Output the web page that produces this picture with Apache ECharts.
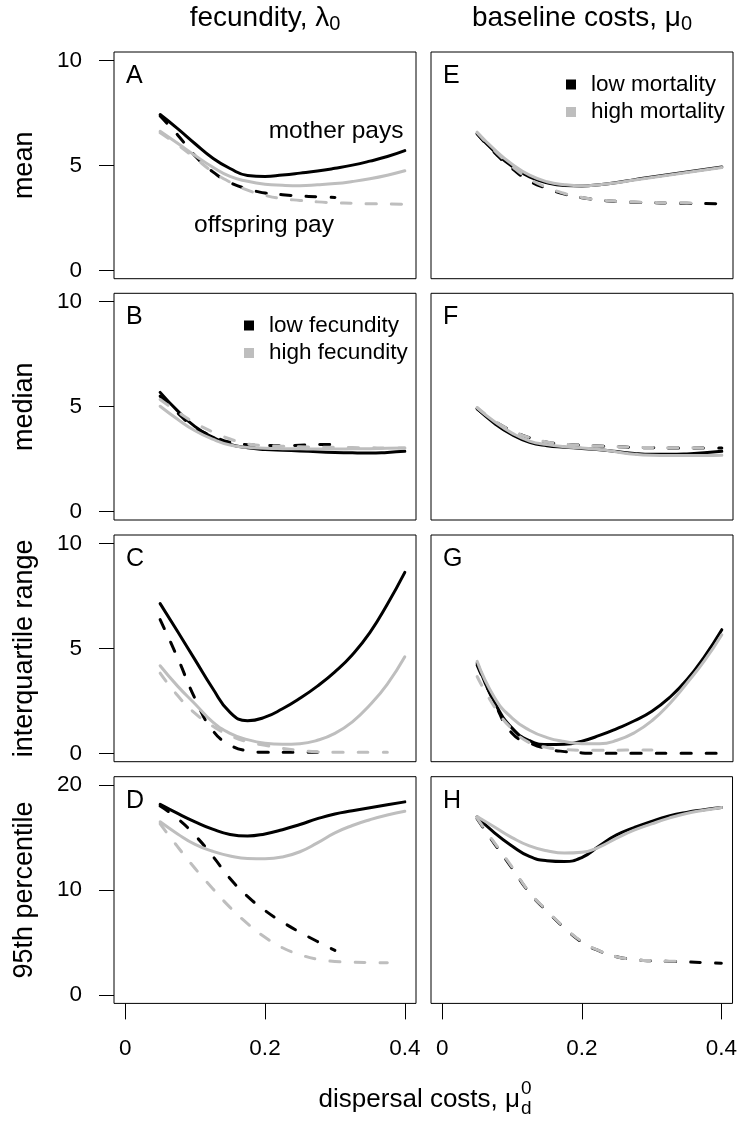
<!DOCTYPE html>
<html><head><meta charset="utf-8">
<script src="https://cdn.jsdelivr.net/npm/echarts@6/dist/echarts.min.js"></script>
<style>html,body{margin:0;padding:0;background:#fff}#c{width:740px;height:1122px}</style>
</head><body><div id="c"></div>
<script>
// ---------- data ----------
const xValues = [0.05,0.075,0.1,0.125,0.15,0.175,0.2,0.225,0.25,0.275,0.3,0.325,0.35,0.375,0.4];
const xTicks = [0, 0.2, 0.4];
const yTicksSmall = [0, 5, 10];
const yTicksLarge = [0, 10, 20];
const panelLetters = ['A','B','C','D','E','F','G','H'];
const rowTitles = ['mean','median','interquartile range','95th percentile'];

// column 1: fecundity (low = black, high = grey); mother pays = solid, offspring pay = dashed
const A_motherLow  = [7.42,6.75,6.03,5.35,4.85,4.52,4.47,4.54,4.63,4.73,4.86,5.01,5.2,5.42,5.7];
const A_motherHigh = [6.62,6.05,5.47,4.92,4.47,4.24,4.1,4.05,4.03,4.07,4.13,4.23,4.36,4.53,4.74];
const A_offLow     = [7.35,6.45,5.45,4.7,4.18,3.88,3.68,3.6,3.54,3.5,3.47,null,null,null,null];
const A_offHigh    = [6.55,5.98,5.35,4.7,4.2,3.82,3.57,3.41,3.33,3.26,3.22,3.19,3.17,3.16,3.15];

const B_motherLow  = [5.68,4.8,4.05,3.55,3.2,3.04,2.96,2.92,2.89,2.85,2.82,2.8,2.79,2.82,2.87];
const B_motherHigh = [5.02,4.4,3.85,3.45,3.17,3.06,3.02,3.0,2.99,2.98,2.98,2.99,3.0,3.02,3.03];
const B_offLow     = [5.5,4.7,4.0,3.6,3.3,3.19,3.15,3.14,3.16,3.19,3.2,null,null,null,null];
const B_offHigh    = [5.34,4.75,4.22,3.8,3.46,3.22,3.15,3.11,3.09,3.07,3.06,3.05,3.04,3.03,3.03];

const C_motherLow  = [7.13,5.8,4.45,3.1,1.95,1.55,1.72,2.12,2.62,3.2,3.88,4.7,5.75,7.1,8.62];
const C_motherHigh = [4.17,3.2,2.35,1.5,0.95,0.65,0.48,0.43,0.46,0.62,0.95,1.5,2.3,3.3,4.6];
const C_offLow     = [6.37,4.55,2.6,1.1,0.4,0.12,0.05,0.05,0.05,0.05,null,null,null,null,null];
const C_offHigh    = [3.82,2.75,1.9,1.3,0.85,0.55,0.38,0.24,0.14,0.07,0.05,0.05,0.05,0.05,null];

const D_motherLow  = [18.16,17.3,16.5,15.8,15.3,15.15,15.35,15.75,16.25,16.8,17.25,17.55,17.85,18.13,18.4];
const D_motherHigh = [16.5,15.35,14.35,13.7,13.25,13.0,12.98,13.15,13.65,14.5,15.45,16.15,16.7,17.15,17.5];
const D_offLow     = [18.0,16.8,15.2,13.25,11.1,9.4,8.05,6.95,5.98,5.1,4.25,null,null,null,null];
const D_offHigh    = [16.3,14.13,12.05,10.15,8.35,6.8,5.5,4.5,3.85,3.4,3.2,3.12,3.09,3.08,null];

// column 2: baseline costs (low mortality = black, high mortality = grey)
const E_motherLow  = [6.5,5.65,4.95,4.45,4.17,4.04,4.02,4.08,4.18,4.32,4.44,4.56,4.68,4.8,4.92];
const E_motherHigh = [6.58,5.75,5.05,4.53,4.22,4.08,4.03,4.08,4.17,4.3,4.42,4.54,4.66,4.78,4.9];
const E_offLow     = [6.5,5.6,4.85,4.25,3.9,3.63,3.46,3.35,3.28,3.24,3.22,3.2,3.19,3.18,3.17];
const E_offHigh    = [6.55,5.7,4.95,4.35,3.95,3.66,3.47,3.36,3.29,3.25,3.23,3.22,3.21,3.2,null];

const F_motherLow  = [4.9,4.2,3.66,3.3,3.14,3.07,3.01,2.95,2.86,2.77,2.73,2.73,2.75,2.8,2.87];
const F_motherHigh = [4.94,4.28,3.74,3.36,3.19,3.09,3.03,2.96,2.84,2.73,2.68,2.67,2.67,2.67,2.68];
const F_offLow     = [4.9,4.3,3.85,3.52,3.31,3.21,3.16,3.12,3.09,3.06,3.04,3.03,3.03,3.03,3.03];
const F_offHigh    = [4.96,4.32,3.86,3.52,3.32,3.21,3.16,3.12,3.09,3.07,3.05,3.04,3.04,3.03,null];

const G_motherLow  = [4.3,2.42,1.2,0.6,0.42,0.43,0.58,0.85,1.18,1.55,2.0,2.65,3.5,4.6,5.89];
const G_motherHigh = [4.38,2.65,1.68,1.1,0.75,0.56,0.46,0.46,0.62,0.98,1.55,2.35,3.34,4.4,5.65];
const G_offLow     = [4.2,2.4,0.95,0.5,0.22,0.08,0.02,0,0,0,0,0,0,0,0];
const G_offHigh    = [3.66,2.2,1.15,0.5,0.28,0.18,0.14,0.14,0.15,0.16,0.16,null,null,null,null];

const H_motherLow  = [16.98,15.45,14.2,13.2,12.8,12.72,13.1,14.2,15.25,15.95,16.55,17.05,17.4,17.65,17.87];
const H_motherHigh = [17.0,16.0,15.0,14.2,13.75,13.52,13.6,14.1,14.95,15.7,16.3,16.85,17.3,17.6,17.87];
const H_offLow     = [16.8,14.4,12.1,9.75,8.0,6.4,5.05,4.2,3.65,3.38,3.25,3.2,3.15,3.08,3.02];
const H_offHigh    = [16.85,14.5,12.2,9.8,8.05,6.45,5.1,4.22,3.65,3.38,3.27,3.22,3.22,null,null];

const panels = [
  [A_motherLow, A_offLow, A_motherHigh, A_offHigh],
  [B_motherLow, B_offLow, B_motherHigh, B_offHigh],
  [C_motherLow, C_offLow, C_motherHigh, C_offHigh],
  [D_motherLow, D_offLow, D_motherHigh, D_offHigh],
  [E_motherLow, E_offLow, E_motherHigh, E_offHigh],
  [F_motherLow, F_offLow, F_motherHigh, F_offHigh],
  [G_motherLow, G_offLow, G_motherHigh, G_offHigh],
  [H_motherLow, H_offLow, H_motherHigh, H_offHigh]
];
const legendNames = {
  1: ['low fecundity', 'high fecundity'],
  4: ['low mortality', 'high mortality']
};

// ---------- layout / style ----------
const FONT = 'Liberation Sans, Arial, Helvetica, sans-serif';
const BLACK = '#000000', GREY = '#bebebe';
const colLeft = [114, 431];
const rowTop = [52, 293.3, 535, 776.7];
const PW = 302, PH = 226.7;

const grids = [], xAxes = [], yAxes = [], series = [], graphics = [];
for (let p = 0; p < 8; p++) {
  const col = p < 4 ? 0 : 1, row = p % 4;
  const big = row === 3;
  grids.push({left: colLeft[col], top: rowTop[row], width: PW, height: PH,
    show: true, borderColor: '#000', borderWidth: 1, backgroundColor: 'transparent', containLabel: false});
  xAxes.push({gridIndex: p, type: 'value', min: -0.016, max: 0.416, position: 'bottom',
    axisLine: {show: false, onZero: false}, splitLine: {show: false},
    axisTick: {show: row === 3, length: 16, lineStyle: {color: '#000', width: 1}, customValues: xTicks},
    axisLabel: {show: row === 3, customValues: xTicks, margin: 34, fontSize: 22.5, color: '#000', fontFamily: FONT}});
  yAxes.push({gridIndex: p, type: 'value', min: big ? -0.8 : -0.4, max: big ? 20.8 : 10.4, position: 'left',
    axisLine: {show: false, onZero: false}, splitLine: {show: false},
    axisTick: {show: col === 0, length: 15, lineStyle: {color: '#000', width: 1}, customValues: big ? yTicksLarge : yTicksSmall},
    axisLabel: {show: col === 0, customValues: big ? yTicksLarge : yTicksSmall, margin: 32, fontSize: 22.5, color: '#000', fontFamily: FONT}});
  const styles = [
    {color: BLACK, type: 'solid'}, {color: BLACK, type: [10, 15]},
    {color: GREY, type: 'solid'}, {color: GREY, type: [10, 15]}
  ];
  panels[p].forEach((ys, k) => {
    let name = panelLetters[p] + '-' + k;
    if (legendNames[p] && k === 0) name = legendNames[p][0];
    if (legendNames[p] && k === 2) name = legendNames[p][1];
    series.push({
      name, type: 'line', xAxisIndex: p, yAxisIndex: p,
      data: xValues.map((x, i) => [x, ys[i]]).filter(d => d[1] !== null),
      smooth: 0.5, symbol: 'none', showSymbol: false, silent: true,
      lineStyle: {color: styles[k].color, width: 3, type: styles[k].type, cap: 'round', join: 'round'},
      itemStyle: {color: styles[k].color},
      emphasis: {disabled: true}, animation: false
    });
  });
  // panel letter
  graphics.push({type: 'text', x: colLeft[col] + 12, y: rowTop[row] + 24,
    style: {text: panelLetters[p], font: '25px ' + FONT, fill: '#000', align: 'left', verticalAlign: 'middle'}});
}
// row titles
rowTitles.forEach((t, r) => {
  graphics.push({type: 'text', x: 25, y: rowTop[r] + PH / 2, rotation: Math.PI / 2,
    style: {text: t, font: '27px ' + FONT, fill: '#000', align: 'center', verticalAlign: 'middle'}});
});
// column titles
const subRich = {a: {fontSize: 28, lineHeight: 32, fontFamily: FONT, color: '#000'},
                 s: {fontSize: 20, lineHeight: 14, fontFamily: FONT, color: '#000', verticalAlign: 'bottom'}};
graphics.push({type: 'text', x: colLeft[0] + PW / 2, y: 18,
  style: {text: '{a|fecundity, λ}{s|0}', rich: subRich, align: 'center', verticalAlign: 'middle'}});
graphics.push({type: 'text', x: colLeft[1] + PW / 2, y: 18,
  style: {text: '{a|baseline costs, μ}{s|0}', rich: subRich, align: 'center', verticalAlign: 'middle'}});
// annotations in A
graphics.push({type: 'text', x: 403.5, y: 131,
  style: {text: 'mother pays', font: '24.5px ' + FONT, fill: '#000', align: 'right', verticalAlign: 'middle'}});
graphics.push({type: 'text', x: 264, y: 225.5,
  style: {text: 'offspring pay', font: '24.5px ' + FONT, fill: '#000', align: 'center', verticalAlign: 'middle'}});
// x axis title
graphics.push({type: 'text', x: 520, y: 1100,
  style: {text: 'dispersal costs, μ', font: '26px ' + FONT, fill: '#000', align: 'right', verticalAlign: 'middle'}});
graphics.push({type: 'text', x: 521, y: 1089,
  style: {text: '0', font: '19px ' + FONT, fill: '#000', align: 'left', verticalAlign: 'middle'}});
graphics.push({type: 'text', x: 521, y: 1109,
  style: {text: 'd', font: '19px ' + FONT, fill: '#000', align: 'left', verticalAlign: 'middle'}});

const legendCommon = {orient: 'vertical', icon: 'rect', itemWidth: 10, itemHeight: 10, itemGap: 4.5,
  selectedMode: false, inactiveColor: '#000',
  itemStyle: {borderWidth: 0}, lineStyle: {width: 0},
  textStyle: {fontSize: 22.5, lineHeight: 23, fontFamily: FONT, color: '#000', padding: [0, 0, 0, 10]}};

const option = {
  backgroundColor: '#fff', animation: false,
  grid: grids, xAxis: xAxes, yAxis: yAxes, series,
  legend: [
    Object.assign({}, legendCommon, {left: 239, top: 309, data: legendNames[1]}),
    Object.assign({}, legendCommon, {left: 561, top: 68, data: legendNames[4]})
  ],
  graphic: graphics
};
const chart = echarts.init(document.getElementById('c'), null, {renderer: 'canvas'});
chart.setOption(option);
</script></body></html>
